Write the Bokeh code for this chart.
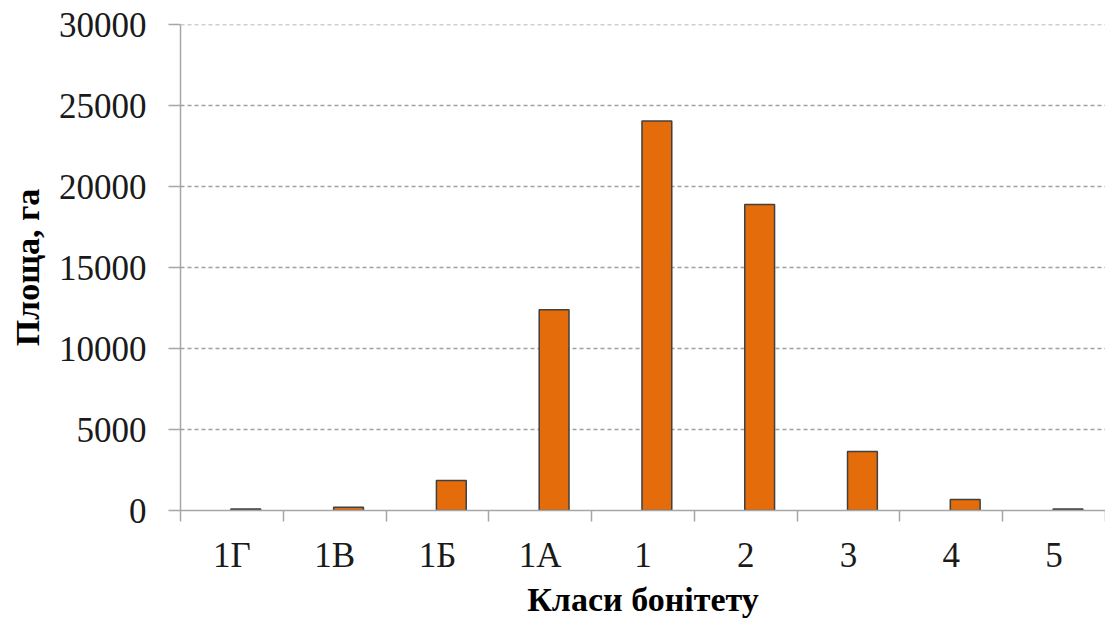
import numpy as np
from bokeh.plotting import figure
from bokeh.models import ColumnDataSource, FixedTicker, Range1d
from bokeh.embed import file_html
from bokeh.resources import INLINE

categories = ["1Г", "1В", "1Б", "1А", "1", "2", "3", "4", "5"]
area = [100, 200, 1850, 12400, 24050, 18900, 3650, 680, 100]
y_ticks = [0, 5000, 10000, 15000, 20000, 25000, 30000]

n = len(categories)
centers = np.arange(n) + 0.5
src = ColumnDataSource(dict(x=centers + 0.135, top=area))

p = figure(width=1105, height=620, output_backend="svg", toolbar_location=None,
           x_range=Range1d(0, n), y_range=Range1d(0, 30010),
           min_border_left=180, min_border_right=0, min_border_top=24, min_border_bottom=110)
p.outline_line_color = None
p.background_fill_color = "white"
p.border_fill_color = "white"

p.vbar(x="x", top="top", width=0.29, source=src, fill_color="#E46C0A",
       line_color="#404040", line_width=1.5)

FONT = "Liberation Serif"

xa = p.xaxis[0]
xa.ticker = FixedTicker(ticks=list(centers), minor_ticks=list(np.arange(n + 1)))
xa.major_label_overrides = {float(c): lab for c, lab in zip(centers, categories)}
xa.major_tick_out = 0
xa.major_tick_in = 0
xa.minor_tick_out = 11
xa.minor_tick_in = 0
xa.minor_tick_line_color = "#A6A6A6"
xa.axis_line_color = "#A6A6A6"
xa.axis_line_width = 1.5
xa.minor_tick_line_width = 1.5
xa.major_label_text_font = FONT
xa.major_label_text_font_size = "35px"
xa.major_label_text_color = "#1a1a1a"
xa.major_label_standoff = 14
xa.axis_label = "Класи бонітету"
xa.axis_label_text_font = FONT
xa.axis_label_text_font_size = "34px"
xa.axis_label_text_font_style = "bold"
xa.axis_label_text_color = "black"
xa.axis_label_standoff = 3

ya = p.yaxis[0]
ya.ticker = FixedTicker(ticks=y_ticks)
ya.minor_tick_line_color = None
ya.major_tick_out = 12
ya.major_tick_in = 0
ya.major_tick_line_color = "#A6A6A6"
ya.major_tick_line_width = 1.5
ya.axis_line_color = "#A6A6A6"
ya.axis_line_width = 1.5
ya.major_label_text_font = FONT
ya.major_label_text_font_size = "35px"
ya.major_label_text_color = "#1a1a1a"
ya.major_label_standoff = 22
ya.axis_label = "Площа, га"
ya.axis_label_text_font = FONT
ya.axis_label_text_font_size = "34px"
ya.axis_label_text_font_style = "bold"
ya.axis_label_text_color = "black"
ya.axis_label_standoff = 10

p.xgrid.grid_line_color = None
p.ygrid.grid_line_color = "#A0A0A0"
p.ygrid.grid_line_dash = "4 3"
p.ygrid.grid_line_width = 1.3

open("out.html", "w").write(file_html(p, INLINE))
